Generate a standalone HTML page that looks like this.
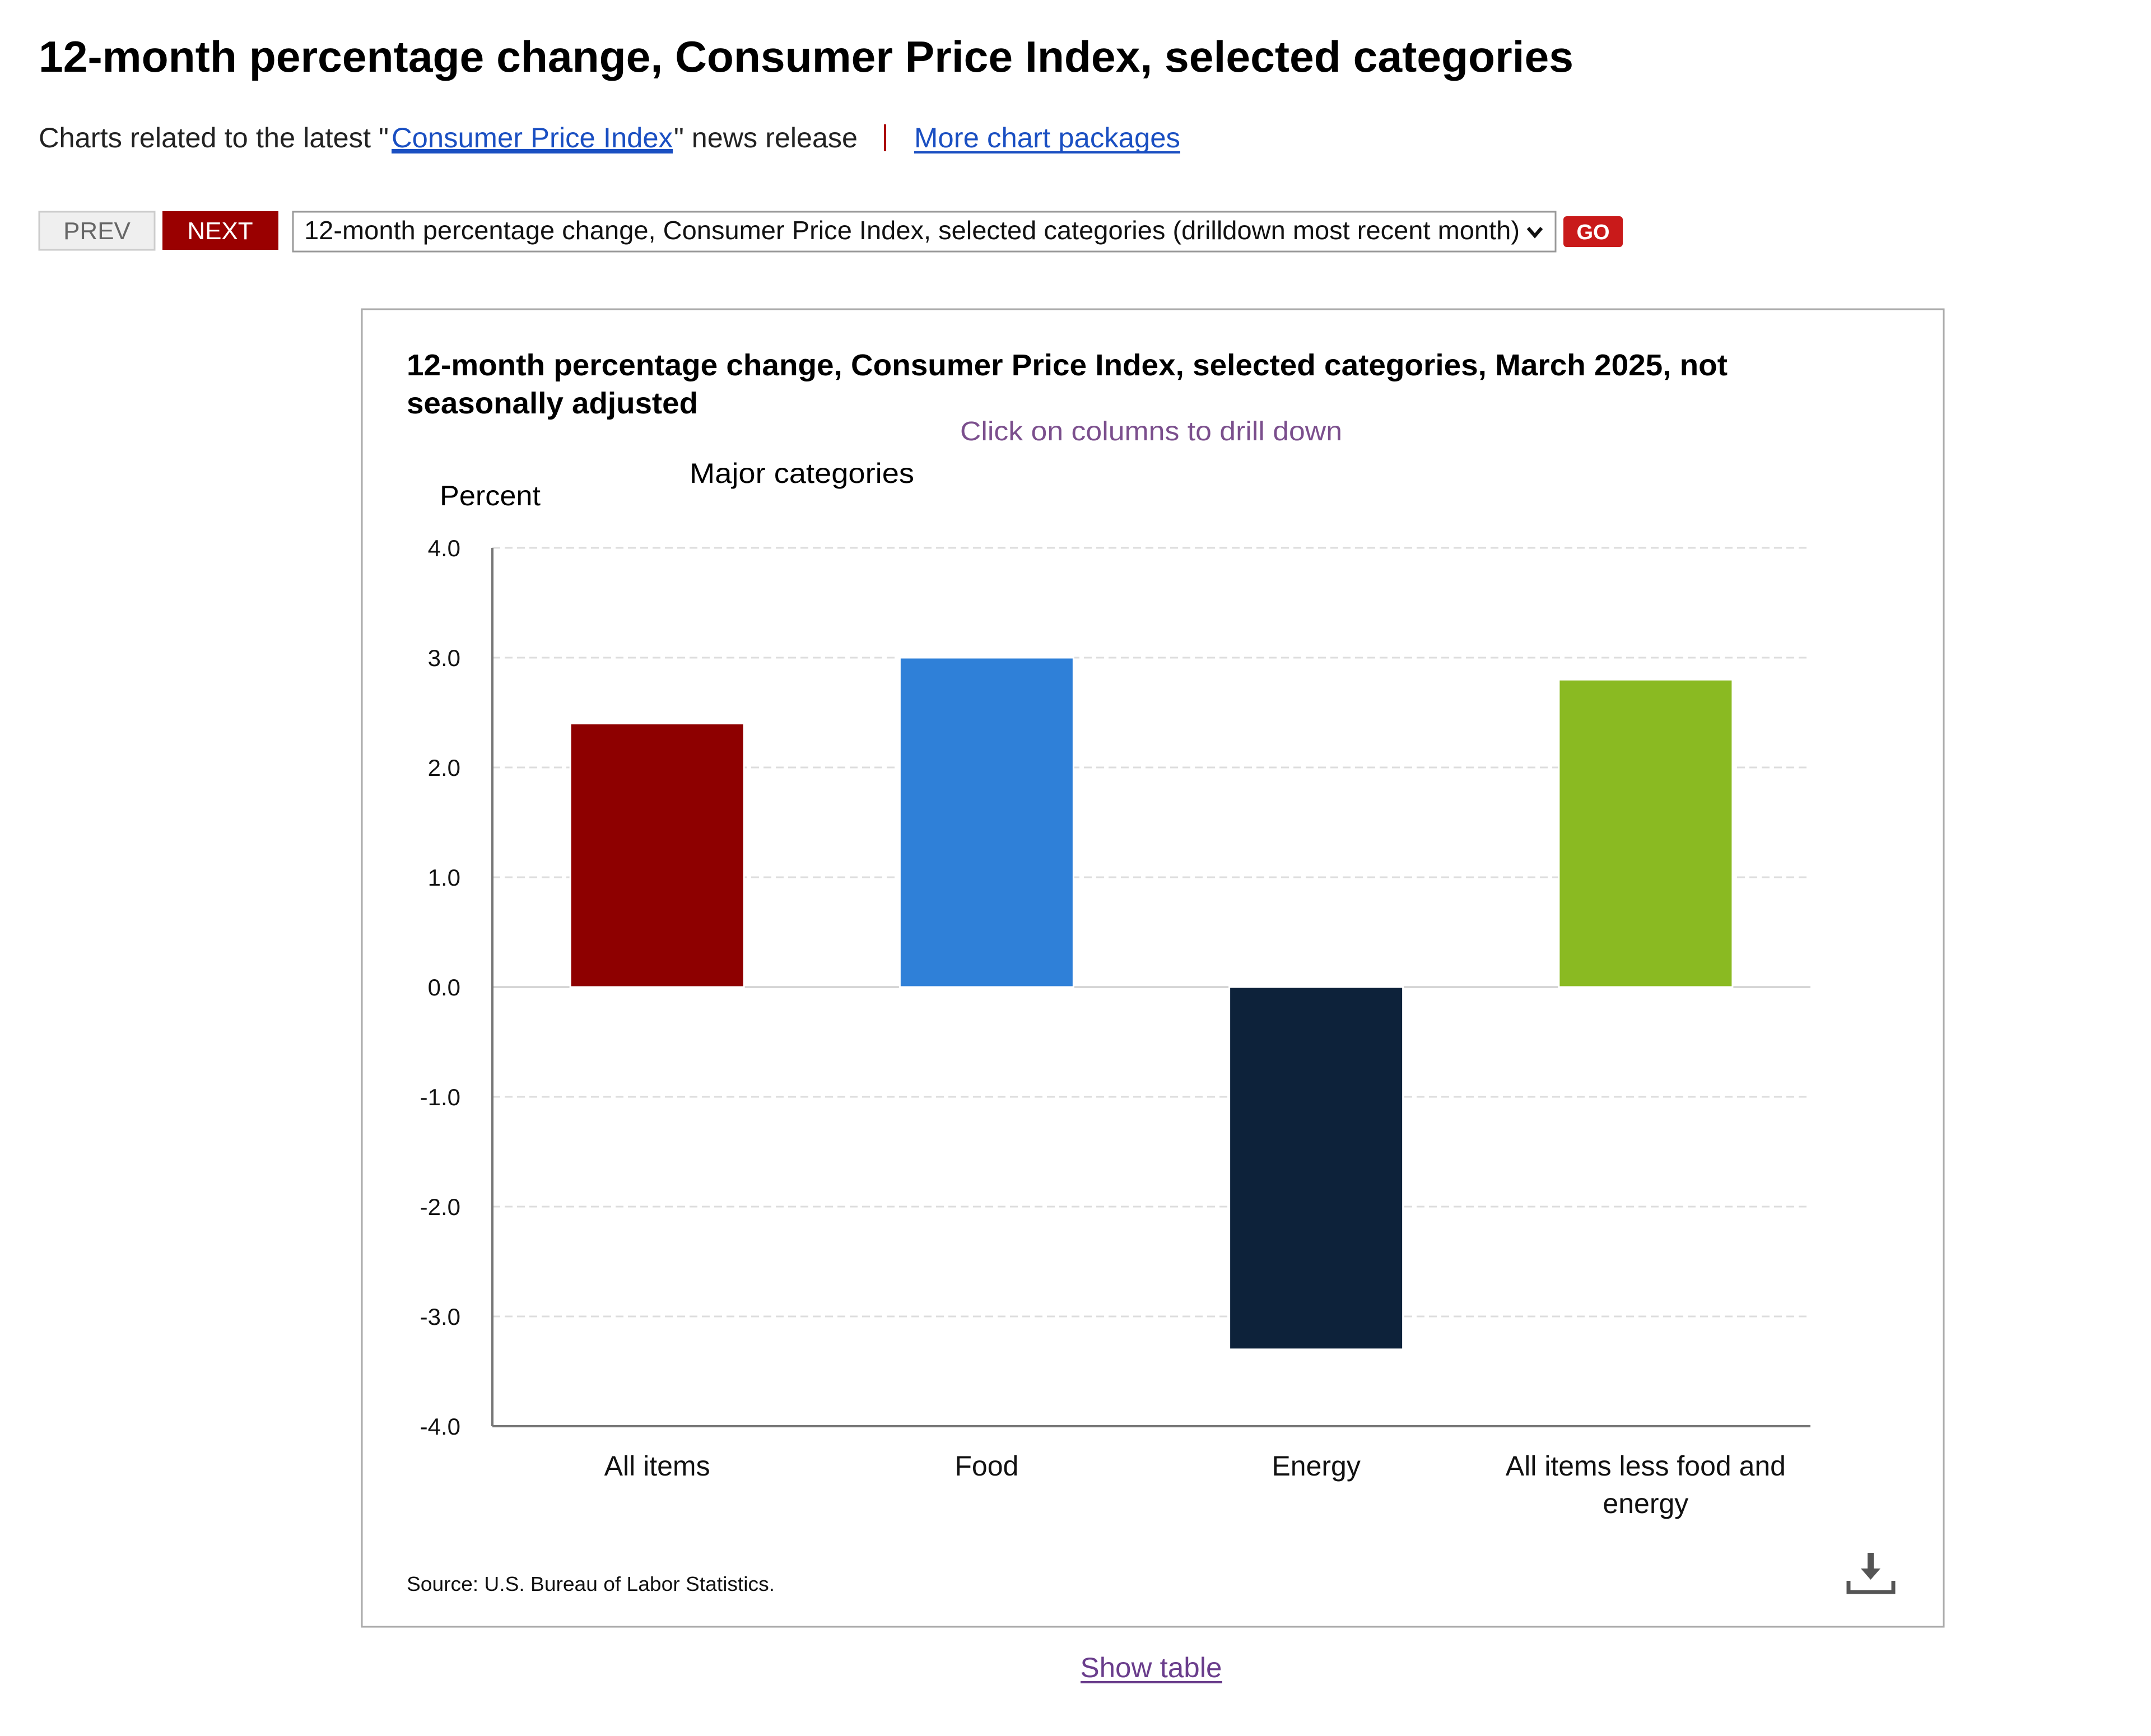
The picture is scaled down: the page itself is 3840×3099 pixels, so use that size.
<!DOCTYPE html>
<html><head><meta charset="utf-8"><style>
html,body{margin:0;padding:0;background:#fff;width:3840px;height:3099px;overflow:hidden}
svg{display:block}
text{font-family:"Liberation Sans",Arial,sans-serif}
</style></head><body>
<svg id="page" width="3840" height="3099" viewBox="0 0 3840 3099">
<text x="69" y="128" font-size="78" font-weight="bold" textLength="2740" lengthAdjust="spacingAndGlyphs" fill="#000">12-month percentage change, Consumer Price Index, selected categories</text>
<g font-size="50">
<text x="69" y="263" textLength="625" lengthAdjust="spacingAndGlyphs" fill="#222">Charts related to the latest "</text>
<text x="699" y="263" textLength="502" lengthAdjust="spacingAndGlyphs" fill="#1a4fc2" text-decoration="underline">Consumer Price Index</text>
<rect x="699" y="270" width="502" height="4" fill="#1a4fc2"/>
<text x="1203" y="263" textLength="328" lengthAdjust="spacingAndGlyphs" fill="#222">" news release</text>
<rect x="1578" y="222" width="4" height="48" fill="#a00"/>
<text x="1632" y="263" textLength="475" lengthAdjust="spacingAndGlyphs" fill="#1a4fc2">More chart packages</text>
<rect x="1632" y="270" width="475" height="4" fill="#1a4fc2"/>
</g>
<g>
<rect x="70" y="378" width="206" height="68" fill="#efefef" stroke="#ccc" stroke-width="3"/>
<text x="173" y="427" font-size="44" text-anchor="middle" fill="#666">PREV</text></g>
<g>
<rect x="290" y="377" width="207" height="69" fill="#9a0000"/>
<text x="393" y="427" font-size="44" text-anchor="middle" fill="#fff">NEXT</text></g>
<g>
<rect x="523" y="378" width="2254" height="71" fill="#fff" stroke="#999" stroke-width="3"/>
<text x="543" y="427" font-size="46" textLength="2170" lengthAdjust="spacingAndGlyphs" fill="#111">12-month percentage change, Consumer Price Index, selected categories (drilldown most recent month)</text>
<path d="M2728 407 l12 14 l12 -14" fill="none" stroke="#111" stroke-width="6"/></g>
<g>
<rect x="2791" y="386" width="106" height="55" rx="6" fill="#c91a1a"/>
<text x="2844" y="427" font-size="38" font-weight="bold" text-anchor="middle" fill="#fff">GO</text></g>

<rect x="646" y="552" width="2824" height="2352" fill="#fff" stroke="#aaa" stroke-width="3"/>
<text x="726" y="670" font-size="54" font-weight="bold" textLength="2358" lengthAdjust="spacingAndGlyphs" fill="#000">12-month percentage change, Consumer Price Index, selected categories, March 2025, not</text>
<text x="726" y="738" font-size="54" font-weight="bold" textLength="520" lengthAdjust="spacingAndGlyphs" fill="#000">seasonally adjusted</text>
<text x="2055" y="786" font-size="48" text-anchor="middle" textLength="682" lengthAdjust="spacingAndGlyphs" fill="#7b4f8d">Click on columns to drill down</text>
<text x="1231" y="862" font-size="50" textLength="401" lengthAdjust="spacingAndGlyphs" fill="#000">Major categories</text>
<text x="785" y="902" font-size="50" textLength="180" lengthAdjust="spacingAndGlyphs" fill="#000">Percent</text>
<g id="plot"></g>
<text x="726" y="2840" font-size="36" textLength="657" lengthAdjust="spacingAndGlyphs" fill="#111">Source: U.S. Bureau of Labor Statistics.</text>
<g fill="#555">
<rect x="3334" y="2772" width="11" height="34"/>
<path d="M3322 2800 h35 l-17.5 20 z"/>
<path d="M3300 2822 v20 h80 v-20" fill="none" stroke="#555" stroke-width="7"/></g>
<text x="2055" y="2994" font-size="50" text-anchor="middle" textLength="253" lengthAdjust="spacingAndGlyphs" fill="#6a3d8c">Show table</text>
<rect x="1929" y="3001" width="253" height="4" fill="#6a3d8c"/>
</svg>
<script>
const categories = ["All items", "Food", "Energy", "All items less food and energy"];
const values = [2.4, 3.0, -3.3, 2.8];
const colors = ["#8e0000", "#2f80d8", "#0d223a", "#8aba22"];
const tickValues = [4, 3, 2, 1, 0, -1, -2, -3, -4];
const tickLabels = ["4.0", "3.0", "2.0", "1.0", "0.0", "-1.0", "-2.0", "-3.0", "-4.0"];
const NS = "http://www.w3.org/2000/svg";
const L = 879, R = 3232, T = 978, B = 2546, yMin = -4, yMax = 4;
const y = v => T + (yMax - v) / (yMax - yMin) * (B - T);
const band = (R - L) / categories.length;
const xc = i => L + band * (i + 0.5);
const plot = document.getElementById("plot");
function mk(tag, attrs) { const e = document.createElementNS(NS, tag); for (const k in attrs) e.setAttribute(k, attrs[k]); plot.appendChild(e); return e; }
tickValues.forEach((v, i) => {
  if (v !== 0 && v !== yMin) {
    const g = mk("line", {x1: L, x2: R, y1: y(v), y2: y(v), stroke: "#ddd", "stroke-width": 3, "stroke-dasharray": "14 8"});
    
    
  }
  const t = mk("text", {x: 822, y: y(v) + 15, "font-size": 42, "text-anchor": "end", fill: "#111"});
  t.textContent = tickLabels[i];
  
  
});
const zl = mk("line", {x1: L, x2: R, y1: y(0), y2: y(0), stroke: "#ccc", "stroke-width": 3});


const bw = band * 0.527;
values.forEach((v, i) => {
  const y0 = y(0), y1 = y(v);
  const r = mk("rect", {x: xc(i) - bw / 2, y: Math.min(y0, y1), width: bw, height: Math.abs(y1 - y0), fill: colors[i], stroke: "#fff", "stroke-width": 3});
  
  
});
const ya = mk("line", {x1: L, x2: L, y1: T, y2: B, stroke: "#777", "stroke-width": 4});


const xa = mk("line", {x1: L, x2: R, y1: B, y2: B, stroke: "#777", "stroke-width": 4});


categories.forEach((c, i) => {
  const lines = c === "All items less food and energy" ? ["All items less food and", "energy"] : [c];
  lines.forEach((ln, j) => {
    const t = mk("text", {x: xc(i), y: 2634 + j * 67, "font-size": 50, "text-anchor": "middle", fill: "#111"});
    t.textContent = ln;
    
    
  });
});
</script>
</body></html>
